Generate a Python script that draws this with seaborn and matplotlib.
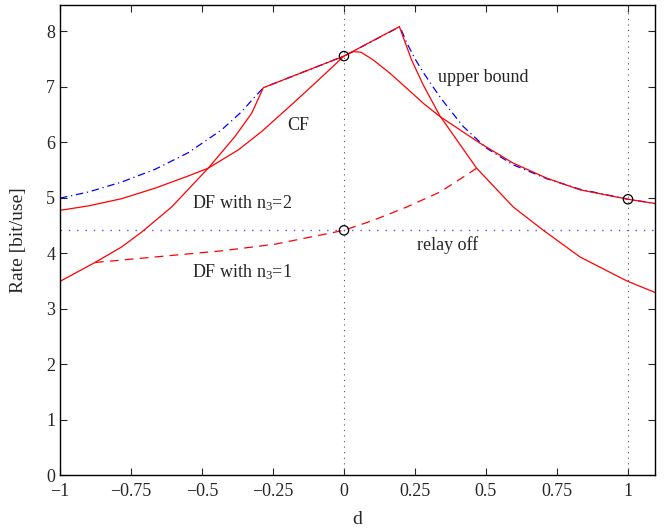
"""
Relay channel rates vs. relay position d
"""
import numpy as np
import pandas as pd
import matplotlib
matplotlib.use('Agg')
import matplotlib.pyplot as plt
import seaborn as sns

# upper bound (blue dash-dot)
upper_d = [-1, -0.9, -0.783, -0.665, -0.548, -0.431, -0.36, -0.313, -0.284, 0, 0.197,
           0.22, 0.25, 0.28, 0.31, 0.34, 0.37, 0.42, 0.502, 0.596, 0.714, 0.831, 1.0, 1.1]
upper_y = [4.99, 5.10, 5.28, 5.51, 5.81, 6.22, 6.55, 6.82, 6.98, 7.55, 8.08,
           7.80, 7.50, 7.25, 7.02, 6.80, 6.60, 6.28, 5.89, 5.59, 5.34, 5.15, 4.97, 4.89]

# CF
cf_d = [-1, -0.9, -0.783, -0.665, -0.548, -0.478, -0.372, -0.29, -0.179, -0.096, 0,
        0.033, 0.06, 0.103, 0.162, 0.221, 0.279, 0.338, 0.479, 0.596, 0.714, 0.831, 1.0, 1.1]
cf_y = [4.77, 4.85, 4.98, 5.17, 5.39, 5.53, 5.86, 6.19, 6.70, 7.09, 7.55,
        7.63, 7.62, 7.48, 7.24, 6.97, 6.70, 6.46, 5.98, 5.62, 5.35, 5.14, 4.97, 4.89]

# DF with n3=2
df2_d = [-1, -0.877, -0.783, -0.712, -0.607, -0.478, -0.384, -0.325, -0.284, 0, 0.195,
         0.238, 0.279, 0.338, 0.467, 0.596, 0.702, 0.831, 0.995, 1.1]
df2_y = [3.49, 3.83, 4.11, 4.38, 4.83, 5.53, 6.10, 6.52, 6.98, 7.55, 8.08,
         7.48, 7.03, 6.47, 5.53, 4.83, 4.41, 3.93, 3.50, 3.28]

# DF with n3=1 (dashed)
df1_d = [-0.877, -0.665, -0.431, -0.243, 0, 0.103, 0.221, 0.338, 0.432, 0.467]
df1_y = [3.83, 3.93, 4.04, 4.16, 4.41, 4.59, 4.83, 5.10, 5.41, 5.53]

relay_off = 4.41
circle_d = [0, 0, 1]
circle_y = [7.55, 4.41, 4.97]

xticks = [-1, -0.75, -0.5, -0.25, 0, 0.25, 0.5, 0.75, 1]
xtick_labels = ['\u22121', '\u22120.75', '\u22120.5', '\u22120.25', '0', '0.25', '0.5', '0.75', '1']
yticks = [0, 1, 2, 3, 4, 5, 6, 7, 8]

sns.set_style('ticks')
plt.rcParams['font.family'] = ['Liberation Serif', 'DejaVu Serif']
plt.rcParams['mathtext.fontset'] = 'custom'
plt.rcParams['mathtext.rm'] = 'Liberation Serif'
plt.rcParams['mathtext.it'] = 'Liberation Serif'
plt.rcParams['lines.solid_joinstyle'] = 'round'

fig = plt.figure(figsize=(6.68, 5.29), dpi=100)
ax = fig.add_axes([0.0898, 0.102, 0.8907, 0.8885])

# reference lines
ax.axvline(0, color='#555555', linestyle=(0, (1, 4)), linewidth=0.8)
ax.axvline(1, color='#555555', linestyle=(0, (1, 4)), linewidth=0.8)
ax.axhline(relay_off, color='#4d4dff', linestyle=(0, (1, 5)), linewidth=1.0)

sns.lineplot(x=upper_d, y=upper_y, ax=ax, color='blue', linewidth=0.9,
             linestyle=(0, (6, 3, 1, 3)), sort=False, estimator=None)
sns.lineplot(x=cf_d, y=cf_y, ax=ax, color='red', linewidth=0.9, sort=False, estimator=None)
sns.lineplot(x=df2_d, y=df2_y, ax=ax, color='red', linewidth=0.9, sort=False, estimator=None)
sns.lineplot(x=df1_d, y=df1_y, ax=ax, color='red', linewidth=0.9,
             linestyle=(0, (7, 5)), sort=False, estimator=None)
sns.scatterplot(x=circle_d, y=circle_y, ax=ax, s=45, facecolor='none',
                edgecolor='black', linewidth=0.9, zorder=5)

ax.text(-0.162, 6.29, 'CF', fontsize=13, ha='center', va='center')
ax.text(0.49, 7.17, 'upper bound', fontsize=13, ha='center', va='center')
ax.text(-0.36, 4.90, 'DF with n$_{\\mathregular{3}}$=2', fontsize=13, ha='center', va='center')
ax.text(-0.36, 3.66, 'DF with n$_{\\mathregular{3}}$=1', fontsize=13, ha='center', va='center')
ax.text(0.363, 4.14, 'relay off', fontsize=13, ha='center', va='center')

ax.set_xlim(-1, 1.095)
ax.set_ylim(0, 8.47)
ax.set_xticks(xticks)
ax.set_xticklabels(xtick_labels)
ax.set_yticks(yticks)
ax.tick_params(direction='in', top=True, right=True, length=5, width=0.8, labelsize=13)
ax.tick_params(axis='x', pad=6)
for s in ax.spines.values():
    s.set_linewidth(1.0)
    s.set_color('black')

ax.set_xlabel('d', fontsize=14, labelpad=8)
ax.set_ylabel('Rate [bit/use]', fontsize=14, labelpad=14)

plt.savefig('out.png', dpi=100)
